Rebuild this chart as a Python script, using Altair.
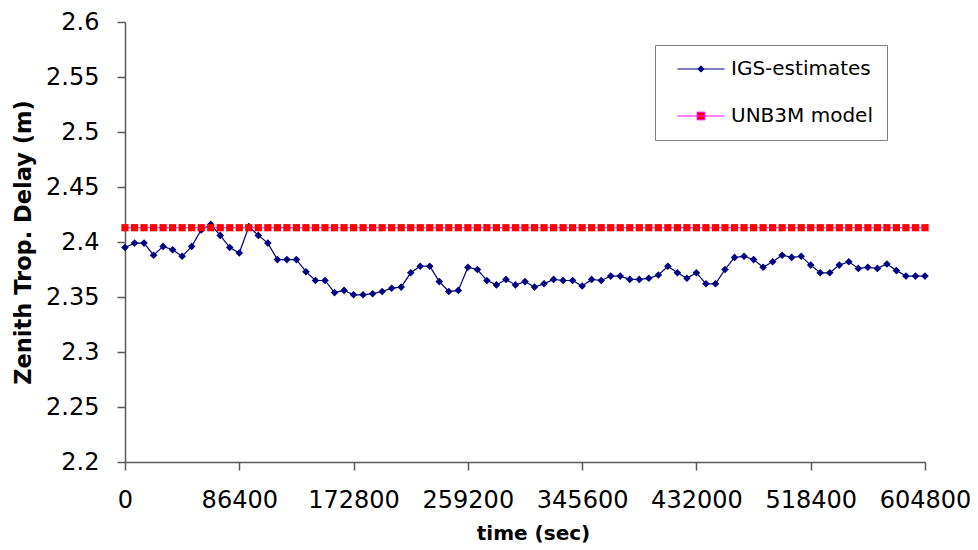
import altair as alt
import pandas as pd

# ---- data ----
time_sec = [
    0, 7200, 14400, 21600, 28800, 36000, 43200, 50400, 57600, 64800,
    72000, 79200, 86400, 93600, 100800, 108000, 115200, 122400, 129600, 136800,
    144000, 151200, 158400, 165600, 172800, 180000, 187200, 194400, 201600, 208800,
    216000, 223200, 230400, 237600, 244800, 252000, 259200, 266400, 273600, 280800,
    288000, 295200, 302400, 309600, 316800, 324000, 331200, 338400, 345600, 352800,
    360000, 367200, 374400, 381600, 388800, 396000, 403200, 410400, 417600, 424800,
    432000, 439200, 446400, 453600, 460800, 468000, 475200, 482400, 489600, 496800,
    504000, 511200, 518400, 525600, 532800, 540000, 547200, 554400, 561600, 568800,
    576000, 583200, 590400, 597600, 604800,
]
igs_values = [
    2.395, 2.399, 2.399, 2.388, 2.396, 2.393, 2.387, 2.396, 2.411, 2.416,
    2.406, 2.395, 2.390, 2.414, 2.406, 2.399, 2.384, 2.384, 2.384, 2.373,
    2.365, 2.365, 2.354, 2.356, 2.352, 2.352, 2.353, 2.355, 2.358, 2.359,
    2.372, 2.378, 2.378, 2.364, 2.355, 2.356, 2.377, 2.375, 2.365, 2.361,
    2.366, 2.361, 2.364, 2.359, 2.362, 2.366, 2.365, 2.365, 2.360, 2.366,
    2.365, 2.369, 2.369, 2.366, 2.366, 2.367, 2.370, 2.378, 2.372, 2.367,
    2.372, 2.362, 2.362, 2.375, 2.386, 2.387, 2.384, 2.377, 2.382, 2.388,
    2.386, 2.387, 2.379, 2.372, 2.372, 2.379, 2.382, 2.376, 2.377, 2.376,
    2.380, 2.374, 2.369, 2.369, 2.369,
]
unb3m_values = [2.413] * len(time_sec)
series_names = ["IGS-estimates", "UNB3M model"]
x_ticks = [0, 86400, 172800, 259200, 345600, 432000, 518400, 604800]
y_ticks = [2.2, 2.25, 2.3, 2.35, 2.4, 2.45, 2.5, 2.55, 2.6]

NAVY = "#000080"
RED = "#ff0000"
MAGENTA = "#ff00ff"
AXIS_GREY = "#595959"

igs_df = pd.DataFrame({"time": time_sec, "ztd": igs_values, "series": series_names[0]})
unb_df = pd.DataFrame({"time": time_sec, "ztd": unb3m_values, "series": series_names[1]})
all_df = pd.concat([igs_df, unb_df], ignore_index=True)

x_enc = alt.X(
    "time:Q",
    scale=alt.Scale(domain=[0, 604800], nice=False, zero=False),
    axis=alt.Axis(values=x_ticks, format="d", title="time (sec)", labelFlush=False,
                  labelOverlap=False, titleFontSize=20, titlePadding=11, titleX=408),
)
y_enc = alt.Y(
    "ztd:Q",
    scale=alt.Scale(domain=[2.2, 2.6], nice=False, zero=False),
    axis=alt.Axis(values=y_ticks, format=".2~f", title="Zenith Trop. Delay (m)",
                  labelFlush=False, labelOverlap=False, titleFontSize=22.5, titlePadding=10),
)

# legend symbols: a line with the marker in the middle
diamond_path = "M-3.36,0L3.36,0M0,-0.45L0.45,0L0,0.45L-0.45,0Z"
square_path = "M-3.36,0L3.36,0M-0.55,-0.55L0.55,-0.55L0.55,0.55L-0.55,0.55Z"

legend = alt.Legend(
    title=None, orient="none", legendX=530, legendY=23, padding=14,
    symbolOffset=22, labelOffset=20, symbolSize=196, symbolStrokeWidth=1,
    symbolOpacity=1, labelFont="DejaVu Sans", labelFontSize=20, labelColor="black",
    strokeColor="#7f7f7f", fillColor="white", rowPadding=27, labelLimit=400,
)

base_igs = alt.Chart(igs_df).encode(x=x_enc, y=y_enc)
line_igs = base_igs.mark_line(color=NAVY, strokeWidth=1.2)
pts_igs = base_igs.mark_point(shape="diamond", filled=True, color=NAVY, size=58, opacity=1)

base_unb = alt.Chart(unb_df).encode(x=x_enc, y=y_enc)
line_unb = base_unb.mark_line(color=MAGENTA, strokeWidth=1)
pts_unb = base_unb.mark_point(shape="square", filled=True, color=RED, size=52, opacity=1)

legend_layer = alt.Chart(all_df).mark_point(filled=True, opacity=0).encode(
    x=x_enc,
    y=y_enc,
    shape=alt.Shape("series:N", scale=alt.Scale(domain=series_names, range=[diamond_path, square_path]), legend=legend),
    fill=alt.Fill("series:N", scale=alt.Scale(domain=series_names, range=[NAVY, RED]), legend=legend),
    stroke=alt.Stroke("series:N", scale=alt.Scale(domain=series_names, range=[NAVY, MAGENTA]), legend=legend),
)

chart = (
    alt.layer(line_igs, pts_igs, line_unb, pts_unb, legend_layer)
    .properties(
        width=800, height=440,
        padding={"left": 117, "top": 14, "right": 45, "bottom": 86},
        autosize=alt.AutoSizeParams(type="none"),
        background="white",
    )
    .configure_view(stroke=None)
    .configure_axis(
        grid=False,
        domainColor=AXIS_GREY, domainWidth=1.5,
        tickColor=AXIS_GREY, tickWidth=1.5, tickSize=8,
        labelFont="DejaVu Sans", labelFontSize=24, labelColor="black", labelPadding=18,
        titleFont="DejaVu Sans", titleFontWeight="bold", titleColor="black",
    )
)

chart.save("out.html", embed_options={"renderer": "svg", "actions": False})
